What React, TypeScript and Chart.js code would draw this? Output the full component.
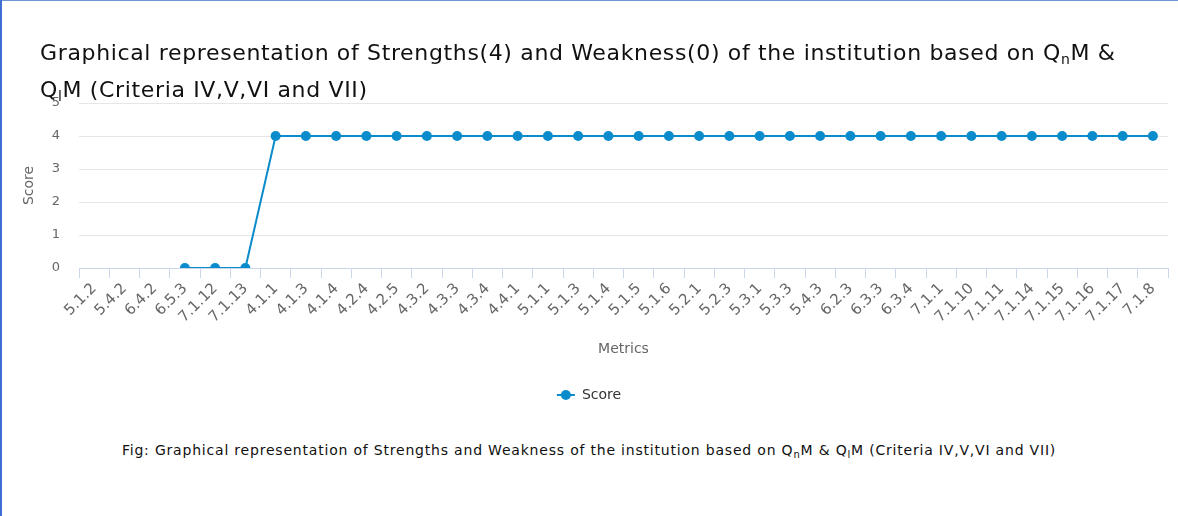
import React, { useEffect, useRef } from "react";
import { Chart, registerables } from "chart.js";

Chart.register(...registerables);

const categories: string[] = [
  "5.1.2", "5.4.2", "6.4.2", "6.5.3", "7.1.12", "7.1.13", "4.1.1", "4.1.3", "4.1.4",
  "4.2.4", "4.2.5", "4.3.2", "4.3.3", "4.3.4", "4.4.1", "5.1.1", "5.1.3", "5.1.4",
  "5.1.5", "5.1.6", "5.2.1", "5.2.3", "5.3.1", "5.3.3", "5.4.3", "6.2.3", "6.3.3",
  "6.3.4", "7.1.1", "7.1.10", "7.1.11", "7.1.14", "7.1.15", "7.1.16", "7.1.17", "7.1.8",
];

const scores: (number | null)[] = [
  null, null, null, 0, 0, 0, 4, 4, 4,
  4, 4, 4, 4, 4, 4, 4, 4, 4,
  4, 4, 4, 4, 4, 4, 4, 4, 4,
  4, 4, 4, 4, 4, 4, 4, 4, 4,
];

const seriesName = "Score";
const yTicks: number[] = [0, 1, 2, 3, 4, 5];

const LINE_COLOR = "#0a8ccc";
const FONT = "'DejaVu Sans', sans-serif";

const legendMarker = {
  id: "legendMarker",
  afterDraw(chart: any) {
    const legend = chart.legend;
    if (!legend || !legend.legendHitBoxes) return;
    const ctx = chart.ctx;
    legend.legendHitBoxes.forEach((box: any) => {
      const cx = box.left + 9;
      const cy = box.top + 7;
      ctx.save();
      ctx.strokeStyle = LINE_COLOR;
      ctx.lineWidth = 2;
      ctx.beginPath();
      ctx.moveTo(box.left, cy);
      ctx.lineTo(box.left + 18, cy);
      ctx.stroke();
      ctx.fillStyle = LINE_COLOR;
      ctx.beginPath();
      ctx.arc(cx, cy, 5, 0, Math.PI * 2);
      ctx.fill();
      ctx.restore();
    });
  },
};

export default function App() {
  const ref = useRef<HTMLCanvasElement | null>(null);

  useEffect(() => {
    if (!ref.current) return;
    const chart = new Chart(ref.current, {
      type: "line",
      data: {
        labels: categories,
        datasets: [
          {
            label: seriesName,
            data: scores,
            borderColor: LINE_COLOR,
            backgroundColor: LINE_COLOR,
            borderWidth: 2,
            pointRadius: 5,
            pointHoverRadius: 5,
            pointBackgroundColor: LINE_COLOR,
            pointBorderWidth: 0,
            spanGaps: false,
            tension: 0,
          },
        ],
      },
      options: {
        responsive: false,
        animation: false,
        devicePixelRatio: 1,
        layout: { padding: { left: 10, right: 10, top: 103, bottom: 8 } },
        plugins: {
          tooltip: { enabled: false },
          title: { display: false },
          legend: {
            display: true,
            position: "bottom",
            labels: {
              usePointStyle: true,
              pointStyle: "line",
              pointStyleWidth: 18,
              font: { family: FONT, size: 14 },
              color: "#333333",
              padding: 10,
            },
          },
        },
        scales: {
          x: {
            type: "category",
            offset: true,
            afterFit: (s: any) => {
              s.height = 110;
            },
            grid: {
              display: true,
              offset: true,
              drawOnChartArea: false,
              drawTicks: true,
              tickLength: 10,
              color: "#ccd6eb",
            },
            border: { display: true, color: "#ccd6eb", width: 1 },
            ticks: {
              autoSkip: false,
              minRotation: 45,
              maxRotation: 45,
              padding: 2,
              color: "#666666",
              font: { family: FONT, size: 15 },
            },
            title: {
              display: true,
              text: "Metrics",
              color: "#666666",
              font: { family: FONT, size: 14 },
              padding: { top: 0, bottom: 20 },
            },
          },
          y: {
            min: 0,
            max: 5,
            afterFit: (s: any) => {
              s.width = 69;
            },
            afterBuildTicks: (s: any) => {
              s.ticks = yTicks.map((v) => ({ value: v }));
            },
            grid: {
              color: "#e6e6e6",
              drawTicks: false,
            },
            border: { display: false },
            ticks: {
              stepSize: 1,
              padding: 19,
              color: "#666666",
              font: { family: FONT, size: 13 },
            },
            title: {
              display: true,
              text: "Score",
              color: "#666666",
              font: { family: FONT, size: 14 },
              padding: { top: 11, bottom: 0 },
            },
          },
        },
      },
      plugins: [legendMarker],
    });
    return () => chart.destroy();
  }, []);

  const subTitle = { fontSize: 14, verticalAlign: "-4px", lineHeight: 0 } as const;
  const subCap = { fontSize: 10, verticalAlign: "-3px", lineHeight: 0 } as const;

  return (
    <div
      style={{
        position: "absolute",
        left: 0,
        top: 0,
        width: 1178,
        height: 516,
        background: "#ffffff",
        overflow: "hidden",
      }}
    >
      <canvas
        ref={ref}
        width={1178}
        height={420}
        style={{ position: "absolute", left: 0, top: 0, width: 1178, height: 420, display: "block" }}
      />
      <div
        style={{
          position: "absolute",
          left: 40,
          top: 34,
          fontFamily: FONT,
          fontSize: 22,
          letterSpacing: "0.65px",
          lineHeight: "37px",
          color: "#111111",
          whiteSpace: "nowrap",
        }}
      >
        Graphical representation of Strengths(4) and Weakness(0) of the institution based on Q
        <sub style={subTitle}>n</sub>M &amp;
        <br />
        Q<sub style={subTitle}>l</sub>M (Criteria IV,V,VI and VII)
      </div>
      <div
        style={{
          position: "absolute",
          left: 0,
          width: 1178,
          top: 440,
          textAlign: "center",
          fontFamily: FONT,
          fontSize: 14,
          letterSpacing: "0.8px",
          lineHeight: "20px",
          color: "#111111",
          whiteSpace: "nowrap",
        }}
      >
        Fig: Graphical representation of Strengths and Weakness of the institution based on Q
        <sub style={subCap}>n</sub>M &amp; Q<sub style={subCap}>l</sub>M (Criteria IV,V,VI and VII)
      </div>
      <div style={{ position: "absolute", left: 0, top: 0, width: 1178, height: 1, background: "#6f95d6" }} />
      <div style={{ position: "absolute", left: 0, top: 0, width: 2, height: 516, background: "#3f6fd3" }} />
    </div>
  );
}
